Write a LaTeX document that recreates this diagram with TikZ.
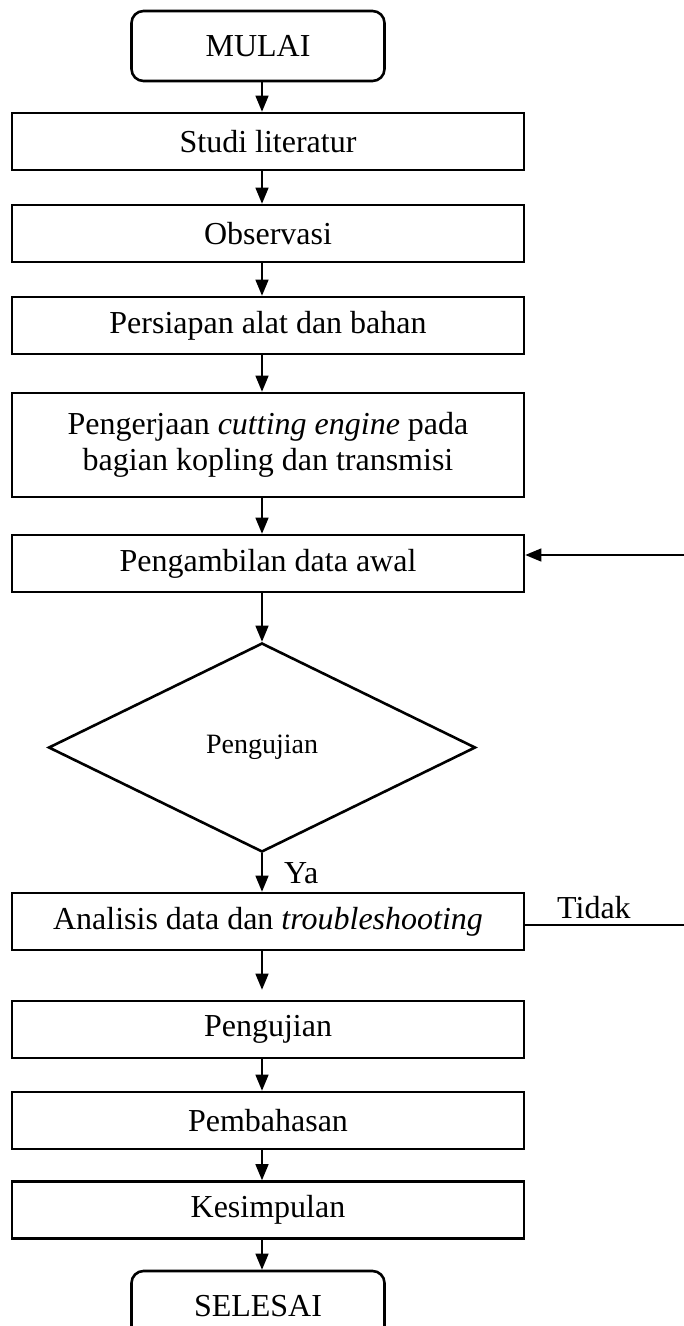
\documentclass[tikz,border=0pt]{standalone}
\usepackage{fontspec}
\setmainfont{Liberation Serif}
\usetikzlibrary{shapes.geometric,arrows.meta}

\begin{document}
\begin{tikzpicture}
[x=1pt,y=-1pt,
  boxDecorate/.style={shape=rectangle,draw,line width=2.6pt,minimum width=512pt,
    minimum height=57pt,inner sep=0pt,align=center,font=\fontsize{32}{36}\selectfont},
  termDecorate/.style={boxDecorate,rounded corners=12pt,minimum width=253pt,minimum height=70pt},
  decisionDecorate/.style={shape=diamond,draw,line width=2.6pt,minimum width=427pt,
    minimum height=209pt,inner sep=0pt,font=\fontsize{28}{32}\selectfont},
  lineDecorate/.style={-{Triangle[length=16pt,width=13pt]},line width=1.3pt},
  labelDecorate/.style={inner sep=0pt,font=\fontsize{32}{36}\selectfont}]
\useasboundingbox (0,0) rectangle (684,1326);
%% nodes
\node (mulai) at (258,46) [termDecorate] {MULAI};
\foreach \nodename/\y/\teks in {
  studi/141.5/Studi literatur,
  observasi/233.5/Observasi,
  persiapan/325.5/Persiapan alat dan bahan,
  ambil/563.5/Pengambilan data awal,
  analisis/921.5/Analisis data dan \textit{troubleshooting},
  uji/1029.5/Pengujian,
  bahas/1120.5/Pembahasan,
  simpul/1210/Kesimpulan}
{
  \node (\nodename) at (268,\y) [boxDecorate] {\teks};
}
\node (kerja) at (268,445) [boxDecorate,minimum height=104pt]
  {Pengerjaan \textit{cutting engine} pada\\bagian kopling dan transmisi};
\node (cek) at (262,747.5) [decisionDecorate] {Pengujian};
\node (selesai) at (258,1306) [termDecorate] {SELESAI};
\node (ya) at (284,873) [labelDecorate,anchor=west] {Ya};
\node (tidak) at (557,918) [labelDecorate,anchor=base west] {Tidak};
%% connectors
\coordinate (poros) at (262,0);
\foreach \a/\b in {mulai/studi,studi/observasi,observasi/persiapan,persiapan/kerja,
  kerja/ambil,ambil/cek,cek/analisis,uji/bahas,bahas/simpul,simpul/selesai}
{
  \draw[lineDecorate] (\a.south -| poros) -- (\b.north -| poros);
}
\draw[lineDecorate,shorten >=10pt] (analisis.south -| poros) -- (uji.north -| poros);
%% jalur tidak
\coordinate (kanan1) at (684,555);
\coordinate (kanan2) at (684,925);
\draw[line width=1.3pt] (analisis.east |- kanan2) -- (kanan2);
\draw[lineDecorate] (kanan1) -- (ambil.east |- kanan1);
\end{tikzpicture}
\end{document}
